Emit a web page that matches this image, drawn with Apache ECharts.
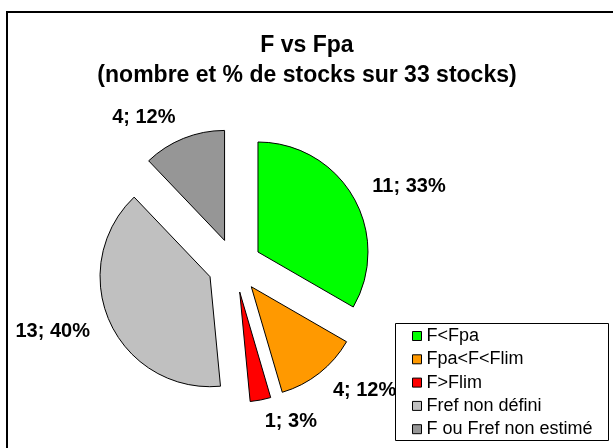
<!DOCTYPE html>
<html>
<head>
<meta charset="utf-8">
<script src="https://cdn.jsdelivr.net/npm/echarts@6/dist/echarts.min.js"></script>
<style>
  html, body { margin: 0; padding: 0; background: #fff; }
  #chart { width: 613px; height: 448px; }
</style>
</head>
<body>
<div id="chart"></div>
<script>
// Stock status categories and counts (33 stocks in total)
const categories = ['F<Fpa', 'Fpa<F<Flim', 'F>Flim', 'Fref non défini', 'F ou Fref non estimé'];
const stockCounts = [11, 4, 1, 13, 4];
const percentLabels = ['33%', '12%', '3%', '40%', '12%'];
const titleLines = ['F vs Fpa', '(nombre et % de stocks sur 33 stocks)'];

const sliceColors = ['#00FF00', '#FF9900', '#FF0000', '#C0C0C0', '#969696'];
const FONT = '"Liberation Sans", Arial, sans-serif';

const chart = echarts.init(document.getElementById('chart'), null, { renderer: 'canvas' });

const pieData = categories.map((name, i) => ({
  name: name,
  value: stockCounts[i],
  selected: true,
  itemStyle: { color: sliceColors[i] }
}));

chart.setOption({
  animation: false,
  backgroundColor: '#ffffff',
  graphic: [
    {
      type: 'rect',
      z: 1,
      shape: { x: 7, y: 12, width: 700, height: 500 },
      style: { fill: null, stroke: '#000', lineWidth: 2 }
    },
    {
      type: 'text',
      z: 1,
      style: {
        text: titleLines[0], x: 307, y: 46,
        textAlign: 'center', textVerticalAlign: 'middle',
        font: 'bold 23px ' + FONT, fill: '#000'
      }
    },
    {
      type: 'text',
      z: 1,
      style: {
        text: titleLines[1], x: 307, y: 76,
        textAlign: 'center', textVerticalAlign: 'middle',
        font: 'bold 23px ' + FONT, fill: '#000'
      }
    },
    {
      // legend frame, drawn over the pie labels
      type: 'rect',
      z: 3,
      shape: { x: 395.5, y: 323.5, width: 213, height: 117 },
      style: { fill: '#fff', stroke: '#000', lineWidth: 1 }
    }
  ],
  legend: {
    orient: 'vertical',
    left: 412,
    top: 326,
    padding: 0,
    z: 4,
    icon: 'rect',
    itemWidth: 9,
    itemHeight: 9,
    itemGap: 3.3,
    selectedMode: false,
    itemStyle: { borderColor: '#000', borderWidth: 1 },
    textStyle: { fontFamily: FONT, fontSize: 18, color: '#000', lineHeight: 20, padding: 0 },
    data: categories
  },
  series: [{
    type: 'pie',
    z: 2,
    center: [234.6, 265.5],
    radius: 110,
    startAngle: 90,
    clockwise: true,
    selectedMode: 'multiple',
    selectedOffset: 27,
    avoidLabelOverlap: false,
    emphasis: { disabled: true, scale: false },
    itemStyle: { borderColor: '#000', borderWidth: 1 },
    select: { itemStyle: { borderColor: '#000', borderWidth: 1 } },
    label: {
      show: true,
      position: 'outside',
      distanceToLabelLine: 0,
      fontFamily: FONT,
      fontSize: 20,
      fontWeight: 'bold',
      color: '#000',
      formatter: p => p.value + '; ' + percentLabels[p.dataIndex]
    },
    labelLine: { show: false, length: 22, length2: 0 },
    data: pieData
  }]
});
</script>
</body>
</html>
